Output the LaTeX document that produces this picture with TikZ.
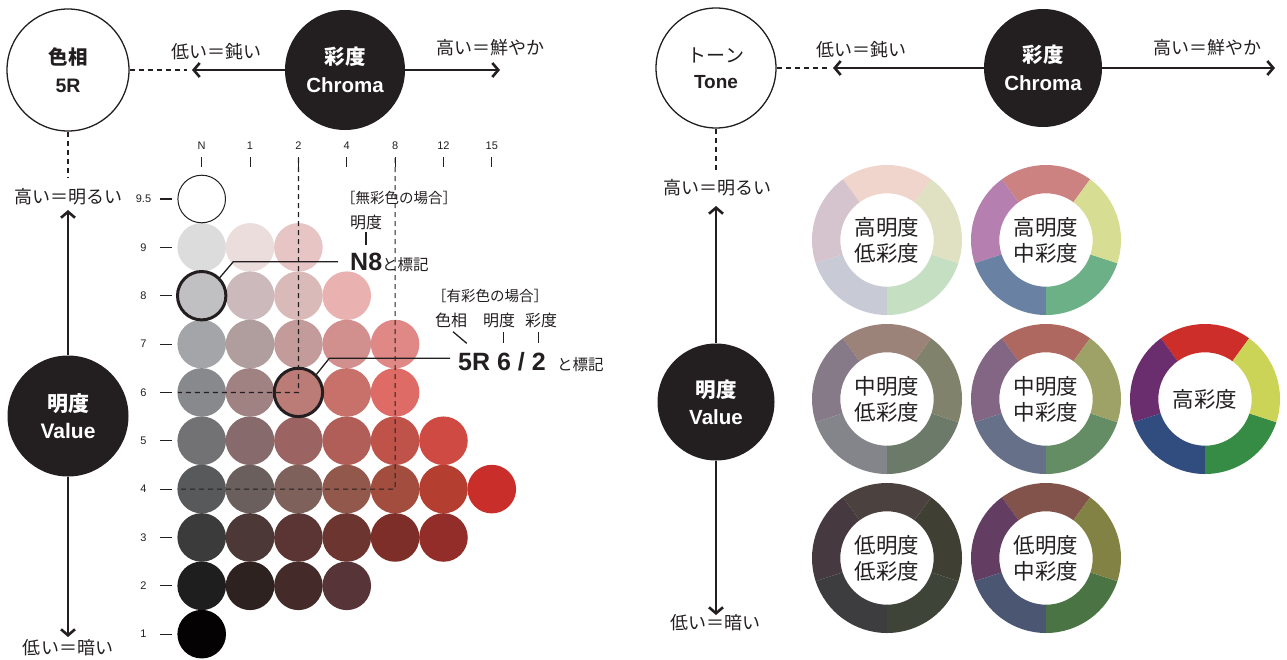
\documentclass[tikz,border=0pt]{standalone}
\usepackage{fontspec}
\setmainfont{Liberation Sans}
\newfontfamily\jp{Noto Sans CJK JP}
\usetikzlibrary{arrows.meta}
\definecolor{ink}{HTML}{231F20}
\newcommand\ringseg[2]{\definecolor{sc}{HTML}{#2}%
  \fill[sc] (#1:75) arc[start angle=#1, delta angle=72, radius=75] -- ({#1+72}:46.7) arc[start angle={#1+72}, delta angle=-72, radius=46.7] -- cycle;}
\newcommand\tonering[8]{%
  \begin{scope}[shift={(#2,#3)}, yscale=-1]
    \ringseg{54}{#4}\ringseg{126}{#5}\ringseg{198}{#6}\ringseg{270}{#7}\ringseg{342}{#8}
  \end{scope}}
\begin{document}
\begin{tikzpicture}[x=1pt,y=-1pt,
  axisW/.style={circle, draw=ink, line width=1.3pt, fill=white, inner sep=0, align=center, text=ink, font=\fontsize{19.5pt}{28pt}\selectfont\bfseries},
  axisB/.style={circle, fill=ink, inner sep=0, align=center, text=white, font=\fontsize{20.5pt}{28pt}\selectfont\bfseries},
  axisline/.style={draw=ink, line width=2.6pt, -{Straight Barb[length=6pt,width=14pt]}},
  guide/.style={draw=ink, line width=1.2pt, dash pattern=on 5pt off 4pt},
  lbl/.style={text=ink, font=\jp\fontsize{18pt}{20pt}\selectfont, inner sep=0},
  dot/.style={circle, minimum size=48.6pt, inner sep=0},
  picked/.style={circle, draw=ink, line width=3pt, minimum size=48.4pt, inner sep=0},
  ticklbl/.style={text=ink, font=\fontsize{11pt}{12pt}\selectfont, inner sep=0},
  tickmark/.style={draw=ink, line width=1.1pt},
  leader/.style={draw=ink, line width=1.3pt},
  note/.style={text=ink, font=\jp\fontsize{14.5pt}{16pt}\selectfont, inner sep=0},
  note2/.style={text=ink, font=\jp\fontsize{16pt}{17pt}\selectfont, inner sep=0},
  ringtxt/.style={align=center, text=ink, font=\jp\fontsize{21.5pt}{26pt}\selectfont, inner sep=0}]
\useasboundingbox (0,0) rectangle (1287,659);

% ---------------- left panel ----------------
% colour dots
\foreach \c/\r/\h in {
  0/1/DCDCDC, 1/1/ECDDDD, 2/1/E8C5C5,
  0/2/C0C0C2, 1/2/CBB9BB, 2/2/DAB9B9, 3/2/E9B2B1,
  0/3/A4A5A8, 1/3/B09D9E, 2/3/C39B9B, 3/3/D18F8E, 4/3/E08886,
  0/4/88898C, 1/4/A18283, 2/4/BB7C78, 3/4/C8706A, 4/4/DE6B65,
  0/5/727275, 1/5/876A6B, 2/5/9B6462, 3/5/B05E57, 4/5/BF534A, 5/5/D04A44,
  0/6/58595B, 1/6/6A5F5C, 2/6/7E615A, 3/6/92584B, 4/6/A34D3E, 5/6/B43F30, 6/6/CA2E2A,
  0/7/3B3B3C, 1/7/4B3837, 2/7/5B3533, 3/7/6D352F, 4/7/7D2E29, 5/7/922D29,
  0/8/1E1E1E, 1/8/2E2221, 2/8/442B2A, 3/8/573437,
  0/9/050203}{
  \definecolor{dc}{HTML}{\h}
  \node[dot, fill=dc] (d-\c-\r) at (201.7+48.35*\c, 199+48.35*\r) {};
}
\node[dot, fill=white, draw=ink, line width=1pt, minimum size=47.6pt] (d-0-0) at (201.7,199) {};

% column labels and ticks
\foreach \i/\t in {0/N,1/1,2/2,3/4,4/8,5/12,6/15}{
  \node[ticklbl] (col\i) at (201.7+48.35*\i,146) {\t};
  \draw[tickmark] (201.7+48.35*\i,157) -- (201.7+48.35*\i,167);
}
% row labels and ticks
\foreach \k/\t in {0/9.5,1/9,2/8,3/7,4/6,5/5,6/4,7/3,8/2,9/1}{
  \node[ticklbl] (row\k) at (143.5,199+48.35*\k) {\t};
  \draw[tickmark] (160,199+48.35*\k) -- (172,199+48.35*\k);
}

% guide dashes in grid
\coordinate (c2top) at (298.4,158);
\coordinate (c8top) at (395.1,158);
\coordinate (r6start) at (178,392.4);
\coordinate (r4start) at (178,489.1);
\draw[guide] (c2top) -- (d-2-4.center) -- (r6start);
\draw[guide] (c8top) -- (d-4-6.center) -- (r4start);

% picked dots
\node[picked] (pickN) at (d-0-2) {};
\node[picked] (pickC) at (d-2-4) {};

% achromatic annotation
\node[note] (achro) at (399,198) {［無彩色の場合］};
\node[note2] (achroV) at (366,222) {明度};
\coordinate (achroVt) at (366,245);
\draw[leader] (366,232) -- (achroVt);
\node[anchor=base west, inner sep=0, text=ink] (n8txt) at (350,270)
  {{\fontsize{25pt}{25pt}\selectfont\bfseries N8}{\jp\fontsize{15.5pt}{16pt}\selectfont と標記}};
\coordinate (n8k) at (233.3,261.7);
\coordinate (n8e) at (338,261.7);
\draw[leader] (pickN.45) -- (n8k) -- (n8e);

% chromatic annotation
\node[note] (chro) at (490,296) {［有彩色の場合］};
\node[note2] (hueW) at (451,320) {色相};
\node[note2] (valW) at (499,320) {明度};
\node[note2] (chrW) at (541,320) {彩度};
\draw[leader] (453,331.7) -- (466.7,343.3);
\draw[leader] (503.3,331.7) -- (503.3,343.3);
\draw[leader] (538.3,331.7) -- (538.3,343.3);
\node[anchor=base west, inner sep=0, text=ink, font=\fontsize{25pt}{25pt}\selectfont\bfseries] (code) at (458,370.5) {5R 6 / 2};
\node[anchor=base west, inner sep=0, text=ink, font=\jp\fontsize{15.5pt}{16pt}\selectfont] (codeT) at (557,370.5) {と標記};
\coordinate (ck) at (329.3,358.3);
\coordinate (ce) at (450,358.3);
\draw[leader] (pickC.45) -- (ck) -- (ce);

% axes left
\node[axisW, minimum size=122pt] (hueL) at (68,70) {{\jp 色相}\\5R};
\node[axisB, minimum size=120pt] (chromaL) at (345,70) {{\jp 彩度}\\Chroma};
\node[axisB, minimum size=121pt, font=\fontsize{21pt}{27pt}\selectfont\bfseries] (valL) at (68,416) {{\jp 明度}\\Value};
\coordinate (tipLL) at (192,70);
\coordinate (tipLR) at (500,70);
\coordinate (upL) at (68,210);
\coordinate (dnL) at (68,637);
\coordinate (dashLh) at (187,70);
\coordinate (dashLv) at (68,177);
\draw[axisline] (chromaL.west) -- (tipLL);
\draw[axisline] (chromaL.east) -- (tipLR);
\draw[axisline] (valL.north) -- (upL);
\draw[axisline] (valL.south) -- (dnL);
\draw[guide] (hueL.east) -- (dashLh);
\draw[guide] (hueL.south) -- (dashLv);
\node[lbl] (lowCL) at (216,52) {低い＝鈍い};
\node[lbl] (highCL) at (490,48) {高い＝鮮やか};
\node[lbl] (highVL) at (68,197) {高い＝明るい};
\node[lbl] (lowVL) at (68,648) {低い＝暗い};

% ---------------- right panel ----------------
\node[axisW, minimum size=120pt, font=\fontsize{19pt}{26pt}\selectfont\bfseries] (toneR) at (716,68) {{\jp\mdseries トーン}\\Tone};
\node[axisB, minimum size=118pt] (chromaR) at (1043,68) {{\jp 彩度}\\Chroma};
\node[axisB, minimum size=117pt, font=\fontsize{20.5pt}{27pt}\selectfont\bfseries] (valR) at (716,402) {{\jp 明度}\\Value};
\coordinate (tipRL) at (833,68);
\coordinate (tipRR) at (1275,68);
\coordinate (upR) at (716,206);
\coordinate (dnR) at (716,615);
\coordinate (dashRh) at (829,68);
\coordinate (dashRv) at (716,172);
\draw[axisline] (chromaR.west) -- (tipRL);
\draw[axisline] (chromaR.east) -- (tipRR);
\draw[axisline] (valR.north) -- (upR);
\draw[axisline] (valR.south) -- (dnR);
\draw[guide] (toneR.east) -- (dashRh);
\draw[guide] (toneR.south) -- (dashRv);
\node[lbl] (lowCR) at (861,50) {低い＝鈍い};
\node[lbl] (highCR) at (1207,48) {高い＝鮮やか};
\node[lbl] (highVR) at (717,188) {高い＝明るい};
\node[lbl] (lowVR) at (715,623) {低い＝暗い};

% tone rings
\tonering{r1}{887}{240}{EFD5CB}{D5C3CD}{C8CBD5}{C5DFC3}{E0E0C3}
\tonering{r2}{1046}{240}{CD8282}{B580B0}{6982A3}{6CB087}{D7DD92}
\tonering{r3}{887}{399}{9C8379}{877A88}{83858B}{6C7A69}{80826C}
\tonering{r4}{1046}{399}{AE6860}{826683}{677089}{648D66}{9EA266}
\tonering{r5}{1205}{399}{CD2E29}{6A2D6E}{314D80}{368C44}{CCD457}
\tonering{r6}{887}{558}{4B423F}{463A40}{3D3D3F}{3E4438}{3F3F33}
\tonering{r7}{1046}{558}{82534B}{643D62}{4A5672}{4A7443}{838245}
\node[ringtxt] (t1) at (887,240) {高明度\\低彩度};
\node[ringtxt] (t2) at (1046,240) {高明度\\中彩度};
\node[ringtxt] (t3) at (887,399) {中明度\\低彩度};
\node[ringtxt] (t4) at (1046,399) {中明度\\中彩度};
\node[ringtxt] (t5) at (1205,399) {高彩度};
\node[ringtxt] (t6) at (887,558) {低明度\\低彩度};
\node[ringtxt] (t7) at (1046,558) {低明度\\中彩度};
\end{tikzpicture}
\end{document}
